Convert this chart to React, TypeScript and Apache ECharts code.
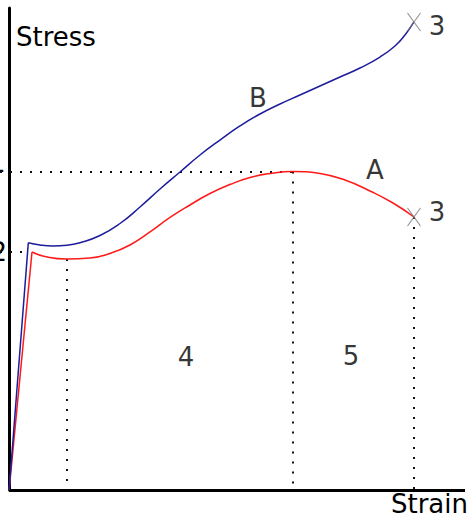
import React, { useEffect, useRef } from "react";
import * as echarts from "echarts";

// Curve A (red): index 0 = origin, index 1 = upper yield point (end of elastic part)
const strainA = [0, 5.02, 7.87, 12.7, 17.74, 22.13, 26.51, 30.9, 35.29, 39.67, 44.06, 48.45, 52.84, 57.22, 62.27, 68.19, 73.67, 79.16, 84.2, 88.81];
const stressA = [0, 49.38, 48.44, 47.93, 48.13, 49.07, 50.83, 53.53, 56.54, 59.13, 61.51, 63.38, 64.83, 65.66, 66.08, 65.66, 64.32, 62.03, 59.54, 56.64];

// Curve B (blue)
const strainB = [0, 4.21, 6.77, 9.63, 12.7, 15.55, 19.93, 24.32, 28.71, 33.1, 37.48, 41.87, 46.25, 50.64, 55.03, 59.42, 63.8, 68.19, 72.58, 76.96, 81.35, 84.64, 86.84, 88.81];
const stressB = [0, 51.31, 50.83, 50.62, 50.77, 51.31, 52.8, 55.29, 58.71, 62.45, 65.98, 69.5, 72.61, 75.52, 78.01, 80.08, 81.95, 83.82, 85.68, 87.55, 89.83, 92.12, 94.4, 97.1];

// In-plot annotations
const annotationLabels = ["B", "A", "3", "3", "4", "5"];
const annotationStrain = [54.6, 80.25, 93.85, 93.85, 38.8, 75.0];
const annotationStress = [81.3, 66.4, 96.3, 57.7, 27.6, 27.8];

// Axis names and cut-off reference labels
const yAxisName = "Stress";
const xAxisName = "Strain";
const levelLabels = ["1", "2"];

const FONT = "DejaVu Sans";

function pts(xs: number[], ys: number[], from: number, to: number) {
  const out: number[][] = [];
  for (let i = from; i <= to; i++) out.push([xs[i], ys[i]]);
  return out;
}

function buildOption() {
  const lastA = strainA.length - 1;
  const lastB = strainB.length - 1;
  // upper yield = index 1; lower yield = min after it in first half; UTS = max
  let lowIdx = 1;
  for (let i = 1; i < Math.floor(strainA.length / 2); i++) if (stressA[i] < stressA[lowIdx]) lowIdx = i;
  let utsIdx = 0;
  for (let i = 0; i < stressA.length; i++) if (stressA[i] > stressA[utsIdx]) utsIdx = i;

  const dotted = { type: [2, 8] as any, width: 2, color: "#111", cap: "butt" as any };
  const xMin = -2;

  const markData: any[] = [
    [{ coord: [xMin, stressA[1]] }, { coord: [strainA[1] - 1, stressA[1]] }],
    [{ coord: [strainA[lowIdx], stressA[lowIdx]] }, { coord: [strainA[lowIdx], 0] }],
    [{ coord: [xMin, stressA[utsIdx]] }, { coord: [strainA[utsIdx], stressA[utsIdx]] }],
    [{ coord: [strainA[utsIdx], stressA[utsIdx]] }, { coord: [strainA[utsIdx], 0] }],
    [{ coord: [strainA[lastA], stressA[lastA]] }, { coord: [strainA[lastA], 0] }],
    [
      { coord: [0, 0], lineStyle: { type: "solid", width: 3, color: "#000" } },
      { coord: [100, 0] },
    ],
  ];

  const lineBase = {
    type: "line",
    showSymbol: false,
    symbol: "none",
    silent: true,
    emphasis: { disabled: true },
  };

  return {
    animation: false,
    grid: { left: 0, right: 4, top: 8, bottom: 28, outerBoundsMode: "none" },
    xAxis: {
      type: "value",
      min: xMin,
      max: 100,
      axisLine: { show: false },
      axisTick: { show: false },
      axisLabel: { show: false },
      splitLine: { show: false },
    },
    yAxis: {
      type: "value",
      min: 0,
      max: 100,
      axisLine: { show: true, onZero: true, lineStyle: { color: "#000", width: 3 } },
      axisTick: { show: false },
      axisLabel: { show: false },
      splitLine: { show: false },
    },
    series: [
      {
        ...lineBase,
        name: "A elastic",
        data: pts(strainA, stressA, 0, 1),
        lineStyle: { color: "#ff1a1a", width: 1.5 },
        z: 3,
      },
      {
        ...lineBase,
        name: "A",
        smooth: 0.5,
        data: pts(strainA, stressA, 1, lastA),
        lineStyle: { color: "#ff1a1a", width: 1.5 },
        z: 3,
        markLine: {
          silent: true,
          symbol: ["none", "none"],
          label: { show: false },
          emphasis: { disabled: true },
          lineStyle: dotted,
          data: markData,
          z: 1,
        },
      },
      {
        ...lineBase,
        name: "B elastic",
        data: pts(strainB, stressB, 0, 1),
        lineStyle: { color: "#1c1c9c", width: 1.5 },
        z: 4,
      },
      {
        ...lineBase,
        name: "B",
        smooth: 0.5,
        data: pts(strainB, stressB, 1, lastB),
        lineStyle: { color: "#1c1c9c", width: 1.5 },
        z: 4,
      },
      {
        type: "scatter",
        name: "fracture",
        silent: true,
        emphasis: { disabled: true },
        symbol: "path://M0 0L13 18M13 0L0 18",
        symbolSize: [13, 18],
        itemStyle: { color: "transparent", borderColor: "#7a7a7a", borderWidth: 1 },
        data: [
          [strainA[lastA], stressA[lastA]],
          [strainB[lastB], stressB[lastB]],
        ],
        z: 5,
      },
      {
        type: "scatter",
        name: "annotations",
        silent: true,
        emphasis: { disabled: true },
        symbol: "circle",
        symbolSize: 1,
        itemStyle: { color: "transparent" },
        label: {
          show: true,
          position: "inside",
          formatter: "{b}",
          fontSize: 26,
          fontFamily: FONT,
          color: "#000",
          textBorderWidth: 0,
        },
        data: annotationLabels.map((name, i) => ({
          name,
          value: [annotationStrain[i], annotationStress[i]],
        })),
        z: 6,
      },
    ],
    graphic: [
      {
        type: "text",
        x: 16,
        y: 24,
        silent: true,
        style: { text: yAxisName, font: `26px '${FONT}'`, fill: "#000", align: "left", verticalAlign: "top" },
      },
      {
        type: "text",
        x: 468,
        y: 491,
        silent: true,
        style: { text: xAxisName, font: `26px '${FONT}'`, fill: "#000", align: "right", verticalAlign: "top" },
      },
      {
        type: "text",
        x: 5.5,
        y: 163,
        silent: true,
        style: { text: levelLabels[0], font: `26px '${FONT}'`, fill: "#000", align: "right", verticalAlign: "middle" },
      },
      {
        type: "text",
        x: 7,
        y: 252,
        silent: true,
        style: { text: levelLabels[1], font: `26px '${FONT}'`, fill: "#000", align: "right", verticalAlign: "middle" },
      },
    ],
  };
}

export default function App() {
  const ref = useRef<HTMLDivElement>(null);
  useEffect(() => {
    if (!ref.current) return;
    const chart = echarts.init(ref.current, null, { renderer: "svg" });
    chart.setOption(buildOption() as any);
    return () => chart.dispose();
  }, []);
  return (
    <div
      ref={ref}
      style={{ position: "fixed", left: 0, top: 0, width: 469, height: 518, background: "#fff" }}
    />
  );
}
